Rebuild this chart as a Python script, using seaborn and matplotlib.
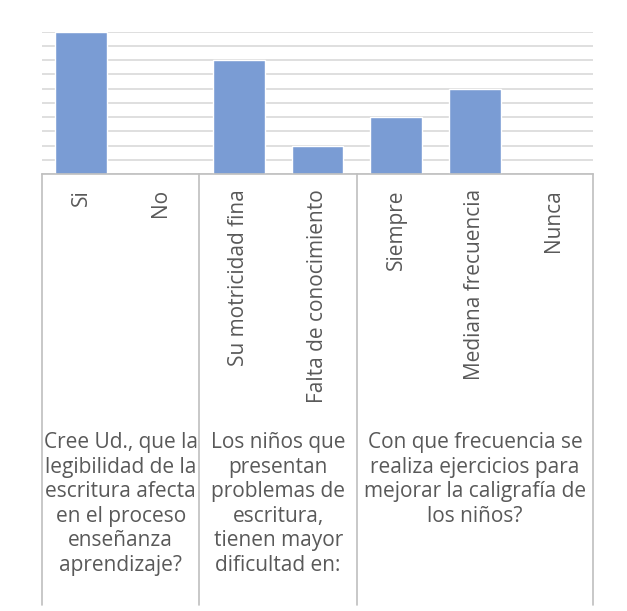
import matplotlib
matplotlib.use("Agg")
import matplotlib.pyplot as plt
import matplotlib.transforms as mtransforms
import pandas as pd
import seaborn as sns

# answer options and how many answered each one
categories = ["Si", "No", "Su motricidad fina", "Falta de conocimiento",
              "Siempre", "Mediana frecuencia", "Nunca"]
counts = [5, 0, 4, 1, 2, 3, 0]

# survey questions, each spanning a group of answer options
questions = [
    "Cree Ud., que la\nlegibilidad de la\nescritura afecta\nen el proceso\nenseñanza\naprendizaje?",
    "Los niños que\npresentan\nproblemas de\nescritura,\ntienen mayor\ndificultad en:",
    "Con que frecuencia se\nrealiza ejercicios para\nmejorar la caligrafía de\nlos niños?",
]
group_sizes = [2, 2, 3]

sns.set_style("white")
plt.rcParams["font.family"] = ["Open Sans", "DejaVu Sans"]

text_color = "#595959"
line_color = "#bfbfbf"
bar_color = "#7a9cd4"

df = pd.DataFrame({"categoria": categories, "n": counts})

fig = plt.figure(figsize=(6.27, 6.11), dpi=100)
W, H = 627, 611
ax = fig.add_axes([42 / W, 1 - 174 / H, (593 - 42) / W, (174 - 31.7) / H])

sns.barplot(data=df, x="categoria", y="n", order=categories, color=bar_color,
            width=0.66, saturation=1, ax=ax)

ax.set_xlim(-0.5, len(categories) - 0.5)
ax.set_ylim(0, 5)
ax.set_yticks([i * 0.5 for i in range(11)])
ax.yaxis.grid(True, color="#d9d9d9", linewidth=1.2)
ax.set_axisbelow(True)
ax.set_yticklabels([])
ax.tick_params(axis="y", length=0)
ax.set_xlabel("")
ax.set_ylabel("")
for side in ["left", "right", "top"]:
    ax.spines[side].set_visible(False)
ax.spines["bottom"].set_color(line_color)
ax.spines["bottom"].set_linewidth(1.2)

ax.set_xticks(range(len(categories)))
ax.set_xticklabels(categories, rotation=90, fontsize=15, color=text_color)
ax.tick_params(axis="x", length=0, pad=11)

# vertical separators between question groups
trans = mtransforms.blended_transform_factory(ax.transData, ax.transAxes)
bottom = -(605 - 174) / (174 - 31.7)
edges = [-0.5]
for g in group_sizes:
    edges.append(edges[-1] + g)
for e in edges:
    ax.plot([e, e], [0, bottom], transform=trans, color=line_color,
            linewidth=1.2, clip_on=False)

# question labels under each group
label_y = -(432 - 174) / (174 - 31.7)
for q, a, b in zip(questions, edges[:-1], edges[1:]):
    ax.text((a + b) / 2, label_y, q, transform=trans, ha="center", va="top",
            fontsize=15, color=text_color, linespacing=1.22)

fig.savefig("out.png", dpi=100)
